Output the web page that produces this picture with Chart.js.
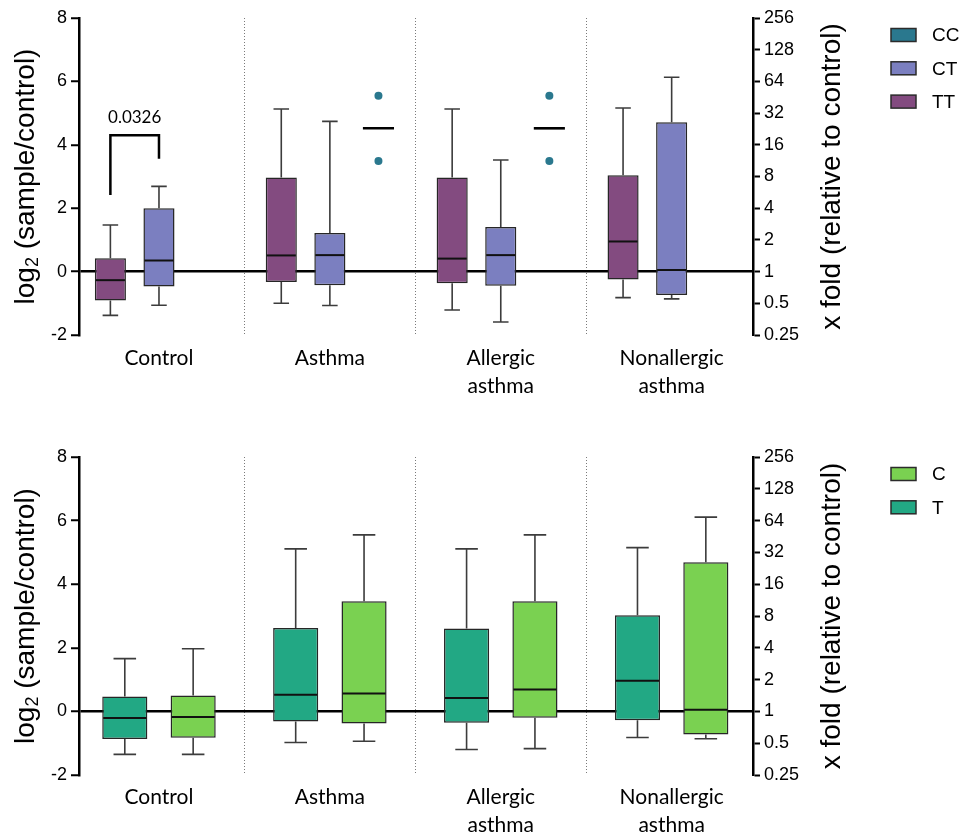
<!DOCTYPE html>
<html>
<head>
<meta charset="utf-8">
<title>Fold change by genotype and allele</title>
<script src="https://cdn.jsdelivr.net/npm/chart.js@4.4.1/dist/chart.umd.min.js"></script>
<style>
  html, body { margin: 0; padding: 0; background: #ffffff; }
  #wrap { position: relative; width: 964px; height: 837px; }
  #wrap canvas { position: absolute; left: 0; }
</style>
</head>
<body>
<div id="wrap">
  <canvas id="genotype" width="964" height="439" style="top:0"></canvas>
  <canvas id="allele" width="964" height="398" style="top:439px"></canvas>
</div>
<script>
// ---- shared axis content ----
const groups = ['Control', 'Asthma', ['Allergic', 'asthma'], ['Nonallergic', 'asthma']];
const log2Ticks = [-2, 0, 2, 4, 6, 8];
const foldTicks = [0.25, 0.5, 1, 2, 4, 8, 16, 32, 64, 128, 256];

// ---- genotype panel (log2 fold change) ----
const ttMin = [-1.38, -1.00, -1.21, -0.82];
const ttQ1  = [-0.91, -0.33, -0.37, -0.25];
const ttMed = [-0.27,  0.51,  0.41,  0.95];
const ttQ3  = [ 0.42,  2.97,  2.97,  3.04];
const ttMax = [ 1.47,  5.13,  5.13,  5.16];

const ctMin = [-1.06, -1.07, -1.59, -0.86];
const ctQ1  = [-0.47, -0.43, -0.45, -0.74];
const ctMed = [ 0.35,  0.52,  0.52,  0.05];
const ctQ3  = [ 2.00,  1.22,  1.41,  4.71];
const ctMax = [ 2.69,  4.74,  3.52,  6.13];

// CC has only two samples in the asthma groups: individual points + median
const ccPoints = [[], [5.55, 3.49], [5.55, 3.49], []];
const ccMed    = [null, 4.52, 4.52, null];

// p value between TT and CT in the control group
const sigText = '0.0326';
const sigLegs = [2.42, 4.30, 3.56]; // left leg end, bracket top, right leg end

// ---- allele panel (log2 fold change) ----
const tMin = [-1.35, -0.98, -1.20, -0.82];
const tQ1  = [-0.87, -0.32, -0.36, -0.28];
const tMed = [-0.21,  0.52,  0.42,  0.96];
const tQ3  = [ 0.47,  2.62,  2.61,  3.02];
const tMax = [ 1.66,  5.11,  5.11,  5.15];

const cMin = [-1.35, -0.94, -1.17, -0.86];
const cQ1  = [-0.83, -0.38, -0.20, -0.73];
const cMed = [-0.18,  0.56,  0.69,  0.05];
const cQ3  = [ 0.50,  3.46,  3.46,  4.69];
const cMax = [ 1.97,  5.55,  5.55,  6.11];

const COLORS = { TT: '#834b80', CT: '#7b7fc0', CC: '#2a788e', T: '#22a884', C: '#7ad151' };

function boxSeries(label, q1, q3, min, med, max) {
  return {
    label,
    data: groups.map((g, i) => ({ x: i, y: [q1[i], q3[i]] })),
    backgroundColor: COLORS[label],
    whisker: { min, med, max }
  };
}

// whiskers, caps, medians and single points on top of the boxes
const boxExtras = {
  id: 'boxExtras',
  afterDatasetsDraw(chart) {
    const ctx = chart.ctx;
    const ys = chart.scales.y;
    chart.data.datasets.forEach((ds, di) => {
      const meta = chart.getDatasetMeta(di);
      meta.data.forEach((bar, i) => {
        const x = bar.x, w = bar.width;
        ctx.save();
        if (ds.whisker) {
          const [q1, q3] = ds.data[i].y;
          const pq1 = ys.getPixelForValue(q1), pq3 = ys.getPixelForValue(q3);
          const plo = ys.getPixelForValue(ds.whisker.min[i]);
          const phi = ys.getPixelForValue(ds.whisker.max[i]);
          const pmd = ys.getPixelForValue(ds.whisker.med[i]);
          ctx.strokeStyle = '#3c3c3c';
          ctx.lineWidth = 1.6;
          ctx.beginPath();
          ctx.moveTo(x, pq3); ctx.lineTo(x, phi);
          ctx.moveTo(x - w / 4, phi); ctx.lineTo(x + w / 4, phi);
          ctx.moveTo(x, pq1); ctx.lineTo(x, plo);
          ctx.moveTo(x - w / 4, plo); ctx.lineTo(x + w / 4, plo);
          ctx.stroke();
          ctx.strokeStyle = '#111111';
          ctx.lineWidth = 2;
          ctx.beginPath();
          ctx.moveTo(x - w / 2 + 1, pmd); ctx.lineTo(x + w / 2 - 1, pmd);
          ctx.stroke();
        }
        if (ds.points) {
          ctx.fillStyle = ds.backgroundColor;
          ds.points[i].forEach(v => {
            ctx.beginPath();
            ctx.arc(x, ys.getPixelForValue(v), 4, 0, Math.PI * 2);
            ctx.fill();
          });
          if (ds.med[i] !== null) {
            const pm = ys.getPixelForValue(ds.med[i]);
            ctx.strokeStyle = '#000';
            ctx.lineWidth = 2.6;
            ctx.beginPath();
            ctx.moveTo(x - w / 2, pm); ctx.lineTo(x + w / 2, pm);
            ctx.stroke();
          }
        }
        ctx.restore();
      });
    });
  }
};

// significance bracket between the first two boxes of the control group
const sigBracket = {
  id: 'sigBracket',
  afterDatasetsDraw(chart) {
    const ctx = chart.ctx, ys = chart.scales.y;
    const a = chart.getDatasetMeta(0).data[0], b = chart.getDatasetMeta(1).data[0];
    const yl = ys.getPixelForValue(sigLegs[0]);
    const yt = ys.getPixelForValue(sigLegs[1]);
    const yr = ys.getPixelForValue(sigLegs[2]);
    ctx.save();
    ctx.strokeStyle = '#000';
    ctx.lineWidth = 2.5;
    ctx.lineJoin = 'miter';
    ctx.beginPath();
    ctx.moveTo(a.x, yl); ctx.lineTo(a.x, yt); ctx.lineTo(b.x, yt); ctx.lineTo(b.x, yr);
    ctx.stroke();
    ctx.fillStyle = '#000';
    ctx.font = '17px Lato, "Open Sans", sans-serif';
    ctx.textAlign = 'center';
    ctx.textBaseline = 'middle';
    ctx.fillText(sigText, (a.x + b.x) / 2, yt - 18);
    ctx.restore();
  }
};

// rotated axis titles on both sides
const axisTitles = {
  id: 'axisTitles',
  afterDraw(chart) {
    const { ctx, chartArea } = chart;
    const cy = (chartArea.top + chartArea.bottom) / 2;
    ctx.save();
    ctx.fillStyle = '#000';
    ctx.textBaseline = 'middle';
    ctx.textAlign = 'left';
    ctx.translate(26, cy);
    ctx.rotate(-Math.PI / 2);
    const big = '28px "Liberation Sans", Arial, sans-serif';
    const small = '18px "Liberation Sans", Arial, sans-serif';
    const p1 = 'log', p2 = '2', p3 = ' (sample/control)';
    ctx.font = big; const w1 = ctx.measureText(p1).width; const w3 = ctx.measureText(p3).width;
    ctx.font = small; const w2 = ctx.measureText(p2).width;
    let x0 = -(w1 + w2 + w3) / 2;
    ctx.font = big; ctx.fillText(p1, x0, 0);
    ctx.font = small; ctx.fillText(p2, x0 + w1, 7);
    ctx.font = big; ctx.fillText(p3, x0 + w1 + w2, 0);
    ctx.restore();

    ctx.save();
    ctx.fillStyle = '#000';
    ctx.textBaseline = 'middle';
    ctx.textAlign = 'center';
    ctx.translate(832, cy);
    ctx.rotate(-Math.PI / 2);
    ctx.font = big;
    ctx.fillText('x fold (relative to control)', 0, 0);
    ctx.restore();
  }
};

// legend on the right, listed in reverse dataset order
const sideLegend = {
  id: 'sideLegend',
  afterDraw(chart, args, opts) {
    const ctx = chart.ctx;
    const items = chart.data.datasets.slice().reverse();
    ctx.save();
    items.forEach((ds, k) => {
      const cy = opts.top + k * opts.step;
      ctx.fillStyle = ds.backgroundColor;
      ctx.fillRect(opts.x, cy - 6.5, 25, 13);
      ctx.strokeStyle = '#2b2b2b';
      ctx.lineWidth = 1.5;
      ctx.strokeRect(opts.x, cy - 6.5, 25, 13);
      ctx.fillStyle = '#000';
      ctx.font = '19px "Liberation Sans", Arial, sans-serif';
      ctx.textAlign = 'left';
      ctx.textBaseline = 'middle';
      ctx.fillText(ds.label, opts.x + 41, cy + 1);
    });
    ctx.restore();
  }
};

function makeChart(id, datasets, catPct, barPct, xHeight, labelPad, extra) {
  return new Chart(document.getElementById(id), {
    type: 'bar',
    data: { datasets },
    options: {
      responsive: false,
      animation: false,
      devicePixelRatio: 1,
      events: [],
      layout: { padding: { top: 18, left: 0, right: 0, bottom: 0 } },
      datasets: {
        bar: {
          categoryPercentage: catPct,
          barPercentage: barPct,
          borderSkipped: false,
          borderWidth: 1.5,
          borderColor: '#262626'
        }
      },
      plugins: {
        legend: { display: false },
        tooltip: { enabled: false },
        sideLegend: { x: 891, top: 35, step: 33.3 }
      },
      scales: {
        x: {
          type: 'linear',
          offset: false,
          min: -0.468,
          max: 3.476,
          afterBuildTicks: s => { s.ticks = groups.map((g, i) => ({ value: i })); },
          ticks: {
            callback: v => groups[v],
            color: '#000',
            font: { family: 'Lato, "Open Sans", sans-serif', size: 21, lineHeight: 1.33 },
            padding: labelPad,
            maxRotation: 0,
            autoSkip: false
          },
          grid: {
            offset: true,
            drawTicks: false,
            lineWidth: 1,
            color: c => (c.index >= 1 && c.index <= 3) ? '#7a7a7a' : 'rgba(0,0,0,0)'
          },
          border: { display: false, dash: [1, 2] },
          afterFit: s => { s.height = xHeight; }
        },
        y: {
          position: 'left',
          min: -2,
          max: 8,
          afterBuildTicks: s => { s.ticks = log2Ticks.map(v => ({ value: v })); },
          ticks: {
            color: '#000',
            font: { family: '"Liberation Sans", Arial, sans-serif', size: 18 },
            padding: 4
          },
          grid: {
            color: c => (c.tick && c.tick.value === 0) ? '#000' : 'rgba(0,0,0,0)',
            lineWidth: 2.5,
            tickColor: '#000',
            tickLength: 8,
            tickWidth: 2
          },
          border: { display: true, color: '#000', width: 2.5 },
          afterFit: s => { s.width = 79; }
        },
        y2: {
          position: 'right',
          min: -2,
          max: 8,
          afterBuildTicks: s => { s.ticks = foldTicks.map(f => ({ value: Math.log2(f) })); },
          ticks: {
            callback: v => String(Math.pow(2, v)),
            color: '#000',
            font: { family: '"Liberation Sans", Arial, sans-serif', size: 18 },
            padding: 4
          },
          grid: {
            drawOnChartArea: false,
            tickColor: '#000',
            tickLength: 7,
            tickWidth: 2
          },
          border: { display: true, color: '#000', width: 2.5 },
          afterFit: s => { s.width = 211; }
        }
      }
    },
    plugins: [boxExtras, axisTitles, sideLegend].concat(extra)
  });
}

const genotypeSets = [
  boxSeries('TT', ttQ1, ttQ3, ttMin, ttMed, ttMax),
  boxSeries('CT', ctQ1, ctQ3, ctMin, ctMed, ctMax),
  {
    label: 'CC',
    data: groups.map((g, i) => ({ x: i, y: null })),
    backgroundColor: COLORS.CC,
    points: ccPoints,
    med: ccMed
  }
];

const alleleSets = [
  boxSeries('T', tQ1, tQ3, tMin, tMed, tMax),
  boxSeries('C', cQ1, cQ3, cMin, cMed, cMax)
];

makeChart('genotype', genotypeSets, 0.853, 0.64, 104, 9, [sigBracket]);
makeChart('allele', alleleSets, 0.80, 0.66, 62, 8, []);
</script>
</body>
</html>
